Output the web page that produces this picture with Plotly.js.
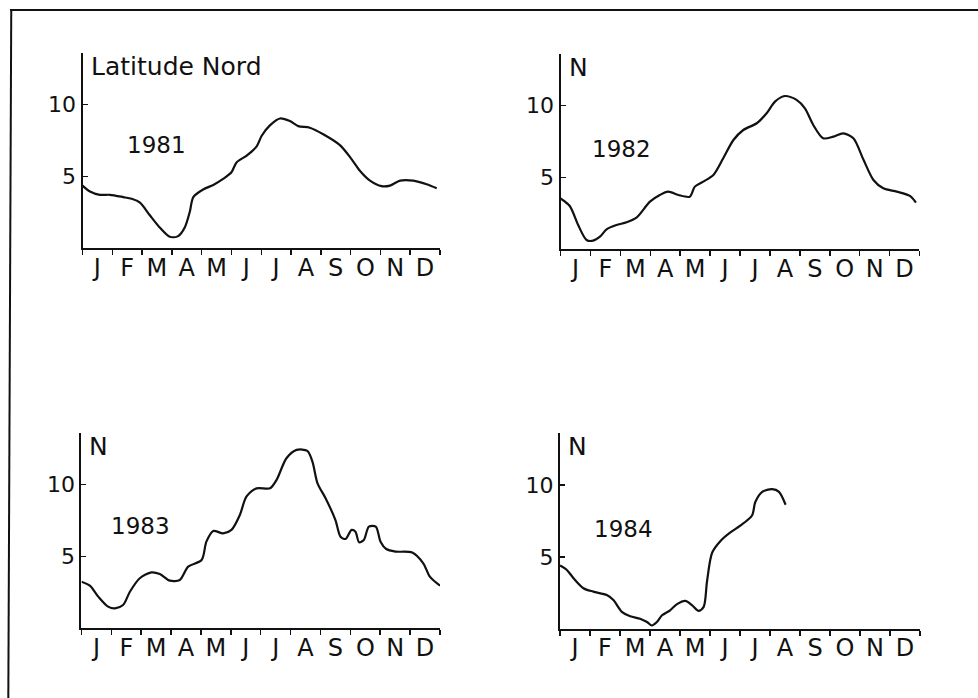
<!DOCTYPE html>
<html>
<head>
<meta charset="utf-8">
<script src="https://cdn.plot.ly/plotly-3.0.1.min.js"></script>
<style>
html,body{margin:0;padding:0;background:#fff;}
#chart{width:978px;height:698px;}
</style>
</head>
<body>
<div id="chart"></div>
<script>
// Month labels and tick positions
var monthLabels = ['J','F','M','A','M','J','J','A','S','O','N','D'];
var monthCenters = [0.5,1.5,2.5,3.5,4.5,5.5,6.5,7.5,8.5,9.5,10.5,11.5];
var monthBounds = [0,1,2,3,4,5,6,7,8,9,10,11,12];
var yTicks = [5,10];

// 1981 (time in months from 1 Jan, latitude °N)
var x1981 = [0,0.25,0.58,0.92,1.37,1.65,1.93,2.26,2.6,2.93,3.21,3.44,3.6,3.72,4.05,4.39,4.72,5.0,5.17,5.5,5.84,6.01,6.29,6.63,6.96,7.24,7.63,8.08,8.64,9.03,9.31,9.65,10.04,10.32,10.66,11.1,11.55,11.89];
var y1981 = [4.35,3.94,3.71,3.71,3.55,3.43,3.16,2.28,1.41,0.78,0.83,1.47,2.51,3.55,4.08,4.4,4.82,5.28,5.97,6.43,7.07,7.81,8.55,9.03,8.85,8.5,8.39,7.93,7.17,6.2,5.39,4.7,4.31,4.35,4.7,4.7,4.45,4.17];

// 1982
var x1982 = [0,0.31,0.59,0.87,1.09,1.32,1.54,1.87,2.21,2.54,2.99,3.32,3.6,3.94,4.32,4.49,4.77,5.11,5.44,5.78,6.11,6.56,6.89,7.17,7.5,7.89,8.17,8.45,8.78,9.12,9.45,9.79,10.12,10.46,10.79,11.24,11.68,11.88];
var y1982 = [3.53,3.0,1.67,0.63,0.58,0.86,1.37,1.67,1.86,2.19,3.3,3.77,4.0,3.77,3.65,4.35,4.7,5.16,6.33,7.6,8.3,8.77,9.47,10.28,10.67,10.4,9.81,8.65,7.72,7.84,8.07,7.72,6.26,4.81,4.23,4.0,3.7,3.23];

// 1983
var x1983 = [0,0.28,0.56,0.89,1.12,1.39,1.62,1.95,2.34,2.62,2.96,3.29,3.57,4.02,4.18,4.41,4.74,5.02,5.3,5.52,5.86,6.31,6.53,6.86,7.2,7.56,7.73,7.9,8.17,8.5,8.67,8.84,9.04,9.17,9.29,9.45,9.62,9.85,10.01,10.2,10.51,11.07,11.44,11.66,12.0];
var y1983 = [3.23,2.95,2.19,1.49,1.37,1.6,2.53,3.47,3.88,3.77,3.3,3.35,4.28,4.74,6.02,6.77,6.6,6.84,7.88,9.16,9.74,9.74,10.33,11.84,12.42,12.35,11.6,10.09,9.05,7.53,6.37,6.21,6.84,6.72,5.98,6.14,7.07,7.07,6.02,5.51,5.33,5.26,4.51,3.58,2.95];

// 1984
var x1984 = [0,0.22,0.45,0.78,1.11,1.56,1.78,2.06,2.34,2.67,2.9,3.06,3.23,3.4,3.67,3.9,4.18,4.4,4.62,4.79,4.9,5.07,5.35,5.68,6.01,6.4,6.51,6.74,7.07,7.3,7.52];
var y1984 = [4.39,4.1,3.51,2.81,2.57,2.33,1.98,1.16,0.85,0.68,0.45,0.21,0.45,0.92,1.27,1.7,1.93,1.63,1.23,1.51,3.28,5.28,6.11,6.7,7.17,7.88,8.82,9.53,9.72,9.53,8.63];

var years = ['1981','1982','1983','1984'];
var yearPos = [[2.49,7.2],[2.05,7.0],[1.96,7.1],[2.1,6.95]];
var axisTitles = ['Latitude Nord','N','N','N'];

var FONT = 'DejaVu Sans, Liberation Sans, sans-serif';
var xs = [x1981,x1982,x1983,x1984];
var ys = [y1981,y1982,y1983,y1984];

var traces = [];
for (var i=0;i<4;i++){
  var sfx = i===0 ? '' : String(i+1);
  traces.push({
    x: xs[i], y: ys[i], type:'scatter', mode:'lines',
    xaxis:'x'+sfx, yaxis:'y'+sfx,
    line:{color:'#111', width:2.2, shape:'spline', smoothing:0.8},
    hoverinfo:'skip', showlegend:false
  });
}

var xDomains = [[0.08436,0.44990],[0.57311,0.94018],[0.08333,0.44990],[0.57260,0.94070]];
var yDomains = [[0.64470,0.92407],[0.64327,0.92264],[0.10029,0.37966],[0.09957,0.37894]];

var layout = {
  width:978, height:698,
  margin:{l:0,r:0,t:0,b:0},
  paper_bgcolor:'#fff', plot_bgcolor:'rgba(0,0,0,0)',
  showlegend:false,
  font:{family:FONT, color:'#111'},
  annotations:[], shapes:[]
};

for (var j=0;j<4;j++){
  var s = j===0 ? '' : String(j+1);
  layout['xaxis'+s] = {
    domain: xDomains[j], range:[0,12], anchor:'y'+s,
    showline:true, linecolor:'#111', linewidth:2,
    showgrid:false, zeroline:false,
    tickmode:'array', tickvals:monthCenters, ticktext:monthLabels,
    ticks:'', ticklen:0, ticklabelstandoff:-3,
    tickfont:{family:FONT, size:24, color:'#111'},
    minor:{tickmode:'array', tickvals:monthBounds, ticks:'outside', ticklen:5, tickwidth:1.5, tickcolor:'#111', showgrid:false},
    fixedrange:true
  };
  layout['yaxis'+s] = {
    domain: yDomains[j], range:[0,13.6], anchor:'x'+s,
    showline:true, linecolor:'#111', linewidth:2,
    showgrid:false, zeroline:false,
    tickmode:'array', tickvals:yTicks, ticktext:['5','10'],
    ticks:'inside', ticklen:5, tickwidth:1.5, tickcolor:'#111',
    tickfont:{family:FONT, size:22, color:'#111'},
    fixedrange:true
  };
  layout.annotations.push({
    text: axisTitles[j], xref:'x'+s+' domain', yref:'y'+s+' domain',
    x:0, y:1, xanchor:'left', yanchor:'top', xshift:6, yshift:3,
    showarrow:false, font:{family:FONT, size:25, color:'#111'}
  });
  layout.annotations.push({
    text: years[j], xref:'x'+s, yref:'y'+s,
    x: yearPos[j][0], y: yearPos[j][1], xanchor:'center', yanchor:'middle',
    showarrow:false, font:{family:FONT, size:23, color:'#111'}
  });
}

// outer frame (top and left edges of the scanned figure border)
layout.shapes.push({type:'line', xref:'paper', yref:'paper', x0:0.0102, x1:1, y0:0.98567, y1:0.98567, line:{color:'#111', width:2}});
layout.shapes.push({type:'line', xref:'paper', yref:'paper', x0:0.0115, x1:0.0085, y0:0.98567, y1:0, line:{color:'#111', width:2}});

Plotly.newPlot('chart', traces, layout, {displayModeBar:false, staticPlot:true});
</script>
</body>
</html>
